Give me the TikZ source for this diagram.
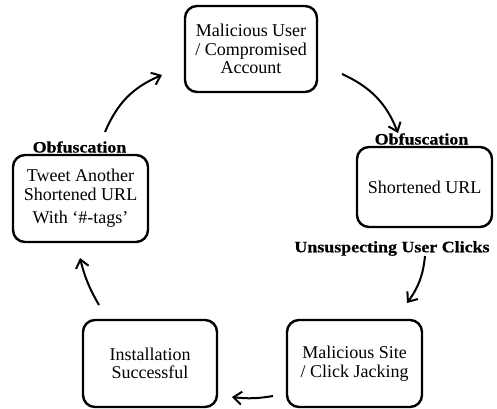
\documentclass[tikz,border=0pt]{standalone}
\usepackage{fontspec}
\setmainfont{Liberation Serif}
\newfontfamily\lblfont[FakeStretch=1.12,FakeBold=0.6]{Liberation Serif Bold}
\usetikzlibrary{arrows.meta}
\tikzset{
  stagebox/.style={draw, line width=2.4pt, rounded corners=12pt, align=center, inner sep=0pt,
    font=\fontsize{18}{18.5}\selectfont},
  steplabel/.style={font=\lblfont\fontsize{16}{16}\selectfont, inner sep=0pt},
  flow/.style={line width=2pt, -{Straight Barb[length=8pt,width=13pt,line width=2pt]}, bend left=#1},
  flow/.default=20
}
\begin{document}
\begin{tikzpicture}[x=1pt,y=-1pt]
\useasboundingbox (0,0) rectangle (497,408);
\node[stagebox, minimum width=132pt, minimum height=86pt] (top) at (251,49) {Malicious User\\/ Compromised\\Account};
\node[stagebox, minimum width=135pt, minimum height=80pt] (right) at (424.5,187) {Shortened URL};
\node[stagebox, minimum width=135pt, minimum height=87pt] (site) at (354.5,363.5) {Malicious Site\\/ Click Jacking};
\node[stagebox, minimum width=134pt, minimum height=87pt] (inst) at (150,363.5) {Installation\\Successful};
\node[stagebox, minimum width=135pt, minimum height=87pt] (left) at (80.5,198.5) {Tweet Another\\Shortened URL\\[5pt]With `\#-tags'};

\node[steplabel] (obfR) at (421.5,139) {Obfuscation};
\node[steplabel] (obfL) at (79.5,147) {Obfuscation};
\node[steplabel] (click) at (392,248.5) {Unsuspecting User Clicks};

\coordinate (a1s) at (105,132); \coordinate (a1e) at (162,75);
\coordinate (a2s) at (342,74);  \coordinate (a2e) at (398,133);
\coordinate (a3s) at (425,256); \coordinate (a3e) at (407,303);
\coordinate (a4s) at (273,396); \coordinate (a4e) at (232,397);
\coordinate (a5s) at (99,305);  \coordinate (a5e) at (80,258);

\draw[flow=22] (a1s) to (a1e);
\draw[flow=22] (a2s) to (a2e);
\draw[flow=15] (a3s) to (a3e);
\draw[flow=8] (a4s) to (a4e);
\draw[flow=8] (a5s) to (a5e);
\end{tikzpicture}
\end{document}
